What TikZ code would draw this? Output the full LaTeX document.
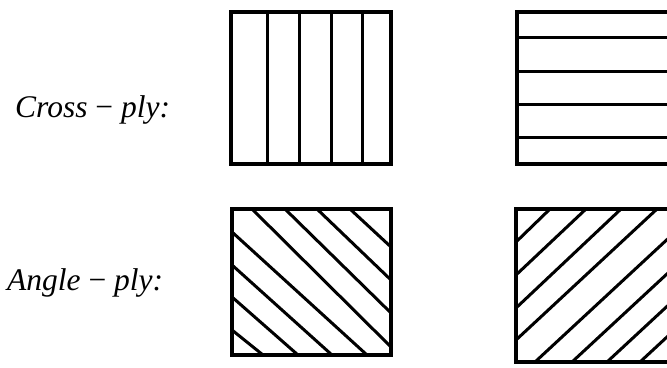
\documentclass[tikz,border=0pt]{standalone}
\usepackage{fontspec}
\setmainfont{Liberation Serif}
\begin{document}
\begin{tikzpicture}[x=1pt,y=-1pt,
  frame/.style={line width=3.8pt,line join=miter},
  fibre/.style={line width=3pt},
  plylabel/.style={font=\fontsize{31.5}{36}\selectfont\itshape,inner sep=0pt,anchor=base west}]
\useasboundingbox (0,0) rectangle (667,367);
\clip (0,0) rectangle (667,367);
% labels
\node[plylabel] (cross) at (15,117) {Cross \textup{−} ply:};
\node[plylabel] (angle) at (7,290) {Angle \textup{−} ply:};
% top-left: vertical fibres
\foreach \x in {267,299,331,362} \draw[fibre] (\x,12) -- (\x,164);
\draw[frame] (231,12) rectangle (391,164);
% top-right: horizontal fibres
\foreach \y in {37,71,104,137} \draw[fibre] (517,\y) -- (680,\y);
\draw[frame] (517,12) rectangle (690,164);
% bottom-left: -45 deg fibres
\begin{scope}
\clip (232,209) rectangle (391,355);
\draw[fibre] (350,209) -- (391,247);
\draw[fibre] (317,209) -- (391,280);
\draw[fibre] (285,209) -- (391,313);
\draw[fibre] (252,209) -- (391,347);
\draw[fibre] (232,232) -- (367,355);
\draw[fibre] (232,265) -- (332,355);
\draw[fibre] (232,297) -- (298,355);
\draw[fibre] (232,330) -- (263,355);
\end{scope}
\draw[frame] (232,209) rectangle (391,355);
% bottom-right: +45 deg fibres
\begin{scope}
\clip (516,209) rectangle (690,362);
\draw[fibre] (516,242) -- (550,209);
\draw[fibre] (516,275) -- (586,209);
\draw[fibre] (516,308) -- (621,209);
\draw[fibre] (516,340) -- (657,209);
\draw[fibre] (535,362) -- (700,209);
\draw[fibre] (572,362) -- (737,209);
\draw[fibre] (607,362) -- (772,209);
\draw[fibre] (640,362) -- (805,209);
\end{scope}
\draw[frame] (516,209) rectangle (690,362);
\end{tikzpicture}
\end{document}
